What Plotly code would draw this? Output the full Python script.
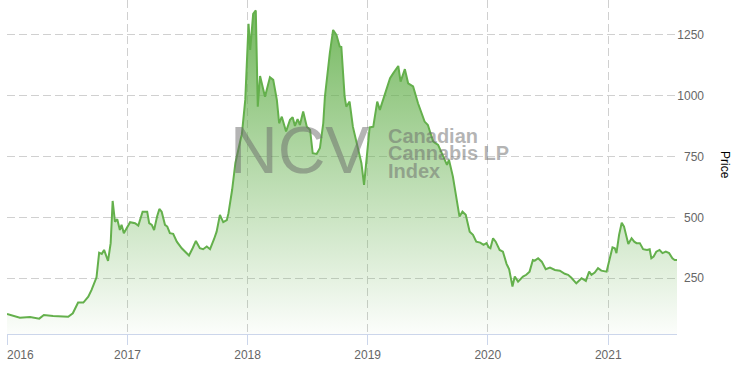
import plotly.graph_objects as go

dates = [
    "2016-01-01", "2016-01-19", "2016-02-09", "2016-03-11", "2016-04-08", "2016-04-22",
    "2016-05-20", "2016-07-05", "2016-07-19", "2016-08-04", "2016-08-20", "2016-09-04",
    "2016-09-14", "2016-09-29", "2016-10-07", "2016-10-15", "2016-10-22", "2016-11-03",
    "2016-11-11", "2016-11-17", "2016-11-24", "2016-12-01", "2016-12-09", "2016-12-14",
    "2016-12-21", "2017-01-09", "2017-01-24", "2017-02-03", "2017-02-16", "2017-03-02",
    "2017-03-08", "2017-03-16", "2017-03-23", "2017-04-01", "2017-04-08", "2017-04-15",
    "2017-04-25", "2017-05-02", "2017-05-10", "2017-05-20", "2017-05-31", "2017-06-15",
    "2017-06-25", "2017-07-07", "2017-07-18", "2017-07-28", "2017-08-09", "2017-08-19",
    "2017-08-30", "2017-09-09", "2017-09-21", "2017-09-29", "2017-10-09", "2017-10-19",
    "2017-10-30", "2017-11-04", "2017-11-15", "2017-11-25", "2017-12-15", "2017-12-25",
    "2018-01-04", "2018-01-09", "2018-01-18", "2018-01-26", "2018-02-01", "2018-02-08",
    "2018-02-23", "2018-03-10", "2018-03-20", "2018-03-31", "2018-04-07", "2018-04-15",
    "2018-04-28", "2018-05-10", "2018-05-18", "2018-05-25", "2018-06-02", "2018-06-09",
    "2018-06-19", "2018-06-30", "2018-07-10", "2018-07-18", "2018-07-30", "2018-08-09",
    "2018-08-19", "2018-08-24", "2018-09-08", "2018-09-18", "2018-09-28", "2018-10-08",
    "2018-10-13", "2018-10-18", "2018-10-23", "2018-10-28", "2018-11-07", "2018-11-17",
    "2018-12-02", "2018-12-13", "2018-12-21", "2018-12-28", "2019-01-07", "2019-01-18",
    "2019-01-30", "2019-02-07", "2019-02-22", "2019-03-10", "2019-03-20", "2019-04-04",
    "2019-04-11", "2019-04-24", "2019-05-04", "2019-05-19", "2019-06-03", "2019-06-23",
    "2019-07-03", "2019-07-19", "2019-08-03", "2019-08-18", "2019-08-30", "2019-09-05",
    "2019-09-17", "2019-10-07", "2019-10-16", "2019-10-26", "2019-11-07", "2019-11-17",
    "2019-11-27", "2019-12-09", "2019-12-19", "2019-12-28", "2020-01-04", "2020-01-09",
    "2020-01-17", "2020-01-25", "2020-02-06", "2020-02-16", "2020-02-27", "2020-03-06",
    "2020-03-16", "2020-03-23", "2020-04-02", "2020-04-17", "2020-04-27", "2020-05-07",
    "2020-05-17", "2020-05-23", "2020-06-02", "2020-06-13", "2020-06-25", "2020-07-08",
    "2020-07-23", "2020-08-07", "2020-08-22", "2020-09-01", "2020-09-11", "2020-09-26",
    "2020-10-12", "2020-10-25", "2020-11-04", "2020-11-11", "2020-11-21", "2020-12-01",
    "2020-12-11", "2020-12-27", "2021-01-08", "2021-01-14", "2021-01-21", "2021-01-26",
    "2021-02-03", "2021-02-11", "2021-02-18", "2021-02-26", "2021-03-03", "2021-03-13",
    "2021-03-21", "2021-03-28", "2021-04-07", "2021-04-17", "2021-04-29", "2021-05-07",
    "2021-05-12", "2021-05-19", "2021-05-27", "2021-06-06", "2021-06-15", "2021-06-25",
    "2021-07-05", "2021-07-15", "2021-07-22", "2021-07-29",
]

prices = [
    103, 95, 88, 91, 84, 99,
    95, 92, 106, 150, 150, 174,
    202, 254, 355, 350, 366, 321,
    394, 567, 482, 492, 448, 469,
    435, 480, 476, 466, 523, 523,
    476, 469, 448, 503, 534, 523,
    469, 462, 435, 432, 400, 373,
    359, 343, 373, 403, 373, 369,
    380, 369, 410, 441, 510, 480,
    489, 517, 612, 723, 845, 982,
    1294, 1187, 1335, 1349, 954, 1080,
    995, 1075, 1064, 982, 886, 913,
    852, 900, 911, 875, 903, 879,
    934, 872, 859, 763, 760, 785,
    886, 995, 1174, 1269, 1249, 1201,
    1199, 1092, 995, 954, 975, 872,
    790, 722, 633, 736, 869, 872,
    975, 941, 1009, 1071, 1092, 1121,
    1057, 1108, 1050, 1037, 968, 893,
    879, 811, 797, 749, 715, 736,
    667, 503, 523, 510, 441, 428,
    400, 396, 387, 394, 377, 373,
    414, 400, 366, 359, 309, 287,
    216, 257, 236, 257, 264, 277,
    325, 322, 332, 318, 287, 294,
    284, 281, 268, 264, 252, 229,
    250, 239, 277, 264, 273, 291,
    281, 277, 339, 377, 373, 353,
    428, 478, 462, 414, 390, 414,
    400, 394, 394, 369, 366, 369,
    332, 339, 359, 366, 353, 359,
    353, 332, 325, 325,
]

year_ticks = ["2016-01-01", "2017-01-01", "2018-01-01", "2019-01-01", "2020-01-01", "2021-01-01"]
# first label is shifted right (left-aligned at the plot edge) by leading figure spaces
year_labels = ["\u2007\u2007\u2007\u20072016", "2017", "2018", "2019", "2020", "2021"]
price_ticks = [250, 500, 750, 1000, 1250]
y_range = [21, 1392]
x_range = ["2015-12-31 23:00", "2021-07-29"]

line_color = "#64b04c"
grid_color = "#d0d0d0"
font_family = "Liberation Sans, Arial, sans-serif"

fig = go.Figure()
fig.add_trace(go.Scatter(
    x=dates, y=prices, mode="lines",
    line=dict(color=line_color, width=2),
    fill="tozeroy",
    fillgradient=dict(
        type="vertical",
        colorscale=[[0, "rgba(100,176,76,0.02)"], [1, "rgba(100,176,76,0.92)"]],
        start=y_range[0], stop=y_range[1],
    ),
    hoverinfo="skip",
    showlegend=False,
))

L, R, T, B = 7, 29, 0, 31
W, H = 736, 365
pw = W - L - R
ph = H - T - B

def px_x(x):
    return (x - L) / pw

def px_y(y):
    return (H - B - y) / ph

fig.update_layout(
    width=W, height=H,
    margin=dict(l=L, r=R, t=T, b=B, pad=0, autoexpand=False),
    paper_bgcolor="white", plot_bgcolor="white",
    font=dict(family=font_family, size=12, color="#666666"),
    xaxis=dict(
        type="date", range=x_range, domain=[0, (677 - L) / pw],
        tickvals=year_ticks, ticktext=year_labels, ticklabeloverflow="allow",
        automargin=False,
        showgrid=True, gridcolor=grid_color, griddash="8px,4px", gridwidth=1,
        showline=True, linecolor="#ccd6eb", linewidth=1,
        ticks="outside", ticklen=10, tickcolor="#ccd6eb", tickwidth=1,
        tickfont=dict(size=12, color="#666666"),
        zeroline=False, fixedrange=True,
    ),
    yaxis=dict(
        range=y_range, anchor="free", position=1.0, side="right",
        ticklabelposition="inside", automargin=False,
        tickvals=price_ticks,
        showgrid=True, gridcolor=grid_color, griddash="8px,4px", gridwidth=1,
        showline=False, zeroline=False, ticks="",
        tickfont=dict(size=12, color="#666666"),
        fixedrange=True,
    ),
)

wm = "rgba(105,105,105,0.5)"
fig.add_annotation(text="NCV", x=px_x(299), y=px_y(150), xref="paper", yref="paper",
                   xanchor="center", yanchor="middle", showarrow=False,
                   font=dict(family=font_family, size=66, color=wm))
for txt, yc in [("Canadian", 135.5), ("Cannabis LP", 153), ("Index", 170.5)]:
    fig.add_annotation(text=txt, x=px_x(386), y=px_y(yc), xref="paper", yref="paper",
                       xanchor="left", yanchor="middle", showarrow=False,
                       font=dict(family=font_family, size=20, color=wm, weight="bold"))

fig.add_annotation(text="Price", x=px_x(725), y=px_y(165), xref="paper", yref="paper",
                   xanchor="center", yanchor="middle", showarrow=False, textangle=90,
                   font=dict(family=font_family, size=12, color="#000000"))

fig.write_html("out.html")
